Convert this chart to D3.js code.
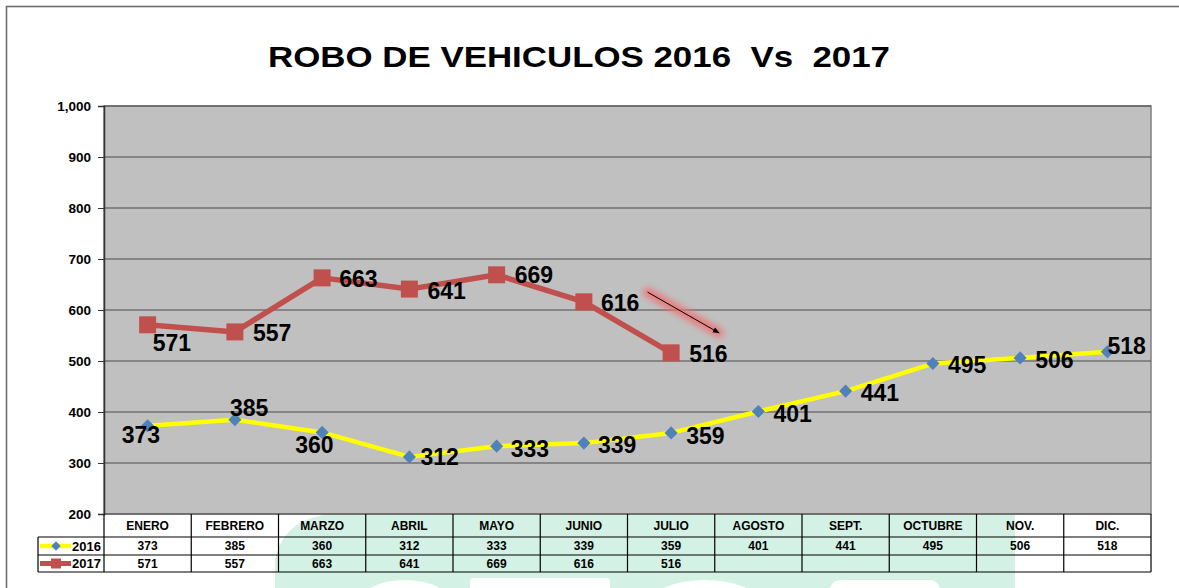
<!DOCTYPE html>
<html>
<head>
<meta charset="utf-8">
<script src="https://cdn.jsdelivr.net/npm/d3@7/dist/d3.min.js"></script>
<style>
  body { margin: 0; background: #fff; }
  text { font-family: "Liberation Sans", Arial, sans-serif; font-weight: bold; }
</style>
</head>
<body>
<svg id="chart" width="1179" height="588"></svg>
<script>
// data
const months = ["ENERO","FEBRERO","MARZO","ABRIL","MAYO","JUNIO","JULIO","AGOSTO","SEPT.","OCTUBRE","NOV.","DIC."];
const values2016 = [373,385,360,312,333,339,359,401,441,495,506,518];
const values2017 = [571,557,663,641,669,616,516];
const yTicks = [200,300,400,500,600,700,800,900,1000];

// manual label nudges (dx, dy) like the excel original
const off2016 = [[-26,9],[-5,-12],[-27,12],[11,0],[14,3],[14,2],[15,3],[15,2],[15,2],[15,1],[15,2],[0,-6]];
const off2017 = [[5,18],[18,1],[17,1],[18,2],[18,0],[17,1],[18,1]];

const svg = d3.select("#chart");
const plotL = 104, plotR = 1151, plotT = 106, plotB = 514;

const x = d3.scaleBand().domain(months).range([plotL, plotR]);
const y = d3.scaleLinear().domain([200, 1000]).range([plotB, plotT]);
const cx = d => x(d) + x.bandwidth() / 2;

// glow filter for the arrow
const defs = svg.append("defs");
defs.append("filter").attr("id", "glow").attr("x", "-30%").attr("y", "-60%").attr("width", "160%").attr("height", "220%")
  .append("feGaussianBlur").attr("stdDeviation", 3);
defs.append("marker").attr("id", "head").attr("viewBox", "0 0 10 10")
  .attr("refX", 9).attr("refY", 5).attr("markerWidth", 7).attr("markerHeight", 7)
  .attr("orient", "auto")
  .append("path").attr("d", "M0,1 L10,5 L0,9 z").attr("fill", "#000");

// watermark behind the table
const wm = svg.append("g").attr("fill", "#d3f1e4");
wm.append("path").attr("d", "M275,588 L275,560 Q285,514 340,514 L1015,514 L1015,588 Z");
const wmWhite = svg.append("g").attr("fill", "#fff");
wmWhite.append("ellipse").attr("cx", 405).attr("cy", 602).attr("rx", 45).attr("ry", 22);
wmWhite.append("rect").attr("x", 470).attr("y", 578).attr("width", 140).attr("height", 20).attr("rx", 4);
wmWhite.append("ellipse").attr("cx", 705).attr("cy", 604).attr("rx", 55).attr("ry", 24);
wmWhite.append("rect").attr("x", 830).attr("y", 580).attr("width", 110).attr("height", 20).attr("rx", 10);

// outer frame
svg.append("rect").attr("x", 6.5).attr("y", 6.5).attr("width", 1300).attr("height", 700)
  .attr("fill", "none").attr("stroke", "#6f6f6f").attr("stroke-width", 1.6);

// title
svg.append("text").attr("x", 579).attr("y", 67).attr("text-anchor", "middle")
  .attr("font-size", 30).attr("textLength", 622).attr("lengthAdjust", "spacingAndGlyphs")
  .attr("xml:space", "preserve")
  .text("ROBO DE VEHICULOS 2016  Vs  2017");

// plot area
svg.append("rect").attr("x", plotL).attr("y", plotT).attr("width", plotR - plotL).attr("height", plotB - plotT)
  .attr("fill", "#c0c0c0").attr("stroke", "#808080").attr("stroke-width", 1.5);

// gridlines
svg.append("g").selectAll("line").data(yTicks).join("line")
  .attr("x1", plotL).attr("x2", plotR).attr("y1", d => y(d)).attr("y2", d => y(d))
  .attr("stroke", "#4a4a4a").attr("stroke-width", 1.2);

// y axis
const yAxis = svg.append("g").attr("transform", `translate(${plotL},0)`)
  .call(d3.axisLeft(y).tickValues(yTicks).tickSize(6).tickPadding(7).tickFormat(d3.format(",")));
yAxis.select(".domain").attr("stroke", "#333").attr("stroke-width", 1.5);
yAxis.selectAll(".tick line").attr("stroke", "#333");
yAxis.selectAll(".tick text").attr("font-size", 13.5).attr("fill", "#000")
  .attr("font-family", "Liberation Sans, Arial, sans-serif").attr("font-weight", "bold");

// arrow annotation (in data units: band fraction + value)
const arrowFrom = { m: "JULIO", f: 0.23, v: 635 };
const arrowTo = { m: "JULIO", f: 1.05, v: 555 };
const ax = p => x(p.m) + x.bandwidth() * p.f;
svg.append("line")
  .attr("x1", ax(arrowFrom)).attr("y1", y(arrowFrom.v)).attr("x2", ax(arrowTo)).attr("y2", y(arrowTo.v))
  .attr("stroke", "#f07070").attr("stroke-width", 9).attr("stroke-linecap", "round")
  .attr("opacity", 0.9).attr("filter", "url(#glow)");
svg.append("line")
  .attr("x1", ax(arrowFrom)).attr("y1", y(arrowFrom.v)).attr("x2", ax(arrowTo)).attr("y2", y(arrowTo.v))
  .attr("stroke", "#000").attr("stroke-width", 1).attr("marker-end", "url(#head)");

// 2016 line
const line = d3.line().x(d => cx(d.m)).y(d => y(d.v));
const pts2016 = values2016.map((v, i) => ({ m: months[i], v, i }));
const pts2017 = values2017.map((v, i) => ({ m: months[i], v, i }));

svg.append("path").datum(pts2016).attr("d", line)
  .attr("fill", "none").attr("stroke", "#ffff00").attr("stroke-width", 4.5).attr("stroke-linejoin", "round");
svg.append("g").selectAll("path").data(pts2016).join("path")
  .attr("d", d3.symbol(d3.symbolDiamond2, 110))
  .attr("transform", d => `translate(${cx(d.m)},${y(d.v)})`)
  .attr("fill", "#4f81bd");

// 2017 line
svg.append("path").datum(pts2017).attr("d", line)
  .attr("fill", "none").attr("stroke", "#c0504d").attr("stroke-width", 5.5).attr("stroke-linejoin", "round");
svg.append("g").selectAll("rect").data(pts2017).join("rect")
  .attr("x", d => cx(d.m) - 8.5).attr("y", d => y(d.v) - 8.5)
  .attr("width", 17).attr("height", 17).attr("fill", "#c0504d");

// data labels
svg.append("g").selectAll("text").data(pts2016).join("text")
  .attr("x", d => cx(d.m) + off2016[d.i][0]).attr("y", d => y(d.v) + off2016[d.i][1])
  .attr("dy", "0.36em").attr("font-size", 23).text(d => d.v);
svg.append("g").selectAll("text").data(pts2017).join("text")
  .attr("x", d => cx(d.m) + off2017[d.i][0]).attr("y", d => y(d.v) + off2017[d.i][1])
  .attr("dy", "0.36em").attr("font-size", 23).text(d => d.v);

// data table
const rowTop = plotB, r1 = 537, r2 = 555, r3 = 572, legLeft = 38;
const tbl = svg.append("g").attr("stroke", "#000").attr("stroke-width", 1.2);
const bounds = months.map(m => x(m)).concat([plotR]);
tbl.selectAll("line.v").data(bounds).join("line").attr("class", "v")
  .attr("x1", d => d).attr("x2", d => d).attr("y1", rowTop).attr("y2", r3);
tbl.append("line").attr("x1", legLeft).attr("x2", legLeft).attr("y1", r1).attr("y2", r3);
[r1, r2, r3].forEach(ry => tbl.append("line").attr("x1", legLeft).attr("x2", plotR).attr("y1", ry).attr("y2", ry));

svg.append("g").selectAll("text").data(months).join("text")
  .attr("x", d => cx(d)).attr("y", (rowTop + r1) / 2).attr("dy", "0.36em")
  .attr("text-anchor", "middle").attr("font-size", 12).text(d => d);
svg.append("g").selectAll("text").data(pts2016).join("text")
  .attr("x", d => cx(d.m)).attr("y", (r1 + r2) / 2).attr("dy", "0.36em")
  .attr("text-anchor", "middle").attr("font-size", 12).text(d => d.v);
svg.append("g").selectAll("text").data(pts2017).join("text")
  .attr("x", d => cx(d.m)).attr("y", (r2 + r3) / 2).attr("dy", "0.36em")
  .attr("text-anchor", "middle").attr("font-size", 12).text(d => d.v);

// legend keys inside the table
const ly1 = (r1 + r2) / 2, ly2 = (r2 + r3) / 2;
svg.append("line").attr("x1", 40).attr("x2", 71).attr("y1", ly1).attr("y2", ly1)
  .attr("stroke", "#ffff00").attr("stroke-width", 4.5);
svg.append("path").attr("d", d3.symbol(d3.symbolDiamond2, 55)).attr("transform", `translate(56,${ly1})`).attr("fill", "#4f81bd");
svg.append("line").attr("x1", 40).attr("x2", 71).attr("y1", ly2).attr("y2", ly2)
  .attr("stroke", "#c0504d").attr("stroke-width", 5);
svg.append("rect").attr("x", 51).attr("y", ly2 - 5).attr("width", 10).attr("height", 10).attr("fill", "#c0504d");
svg.append("text").attr("x", 101).attr("y", ly1).attr("dy", "0.36em").attr("text-anchor", "end").attr("font-size", 13).text("2016");
svg.append("text").attr("x", 101).attr("y", ly2).attr("dy", "0.36em").attr("text-anchor", "end").attr("font-size", 13).text("2017");
</script>
</body>
</html>
